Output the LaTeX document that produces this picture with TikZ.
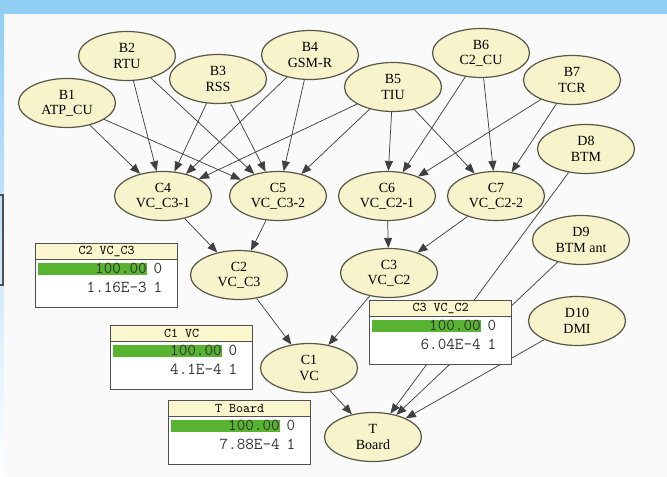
\documentclass[tikz,border=0pt]{standalone}
\usepackage{fontspec}
\setmainfont{Liberation Serif}
\usetikzlibrary{shapes.geometric,arrows.meta}
\definecolor{framebl}{RGB}{147,207,245}
\definecolor{nodefill}{RGB}{247,243,202}
\definecolor{nodeline}{RGB}{88,86,70}
\definecolor{headfill}{RGB}{250,246,205}
\definecolor{barfill}{RGB}{88,180,48}
\definecolor{boxline}{RGB}{80,80,80}
\tikzset{bnode/.style={ellipse, draw=nodeline, fill=nodefill, line width=0.9pt, minimum width=72.75pt, minimum height=36.75pt, inner sep=0pt, align=center, font=\fontsize{10.5}{11.5}\selectfont},
  arc/.style={draw=black!75, line width=0.55pt, -{Triangle[length=7.5pt,width=6pt]}},
  monbox/.style={draw=boxline, fill=white, line width=0.9pt, minimum width=106.5pt, minimum height=48pt, inner sep=0pt, anchor=north west},
  monhead/.style={draw=boxline, fill=headfill, line width=0.9pt, minimum width=106.5pt, minimum height=12pt, inner sep=0pt, anchor=north west, font=\ttfamily\fontsize{10}{10}\selectfont},
  monbar/.style={fill=barfill, minimum width=81.75pt, minimum height=9pt, inner sep=0pt, anchor=north west},
  montext/.style={inner sep=0pt, text=black!80, font=\ttfamily\fontsize{12.5}{13}\selectfont}}

\begin{document}
\begin{tikzpicture}[x=0.75pt, y=-0.75pt]
    \useasboundingbox (0,0) rectangle (667,477);
    \fill[white!98!black] (0,0) rectangle (667,477);
    \fill[framebl] (0,0) rectangle (667,14);
    \shade[top color=framebl, bottom color=white] (0,14) rectangle (4,477);

    \node[bnode] (b1) at (67,103) {B1\\ATP\_CU};
    \node[bnode] (b2) at (127,56) {B2\\RTU};
    \node[bnode] (b3) at (218,79) {B3\\RSS};
    \node[bnode] (b4) at (310,55) {B4\\GSM-R};
    \node[bnode] (b5) at (393,87) {B5\\TIU};
    \node[bnode] (b6) at (481,53) {B6\\C2\_CU};
    \node[bnode] (b7) at (572,80) {B7\\TCR};
    \node[bnode] (c4) at (163,196) {C4\\VC\_C3-1};
    \node[bnode] (c5) at (278,196) {C5\\VC\_C3-2};
    \node[bnode] (c6) at (387,196) {C6\\VC\_C2-1};
    \node[bnode] (c7) at (496,196) {C7\\VC\_C2-2};
    \node[bnode] (c2) at (239,275) {C2\\VC\_C3};
    \node[bnode] (c3) at (389,273) {C3\\VC\_C2};
    \node[bnode] (c1) at (309,368) {C1\\VC};
    \node[bnode] (t) at (373,437) {T\\Board};
    \node[bnode] (d8) at (586,149) {D8\\BTM};
    \node[bnode] (d9) at (581,240) {D9\\BTM ant};
    \node[bnode] (d10) at (577,321) {D10\\DMI};

    \foreach \s/\t in {b1/c4, b1/c5, b2/c4, b2/c5, b3/c4, b3/c5, b4/c4, b4/c5,
        b5/c4, b5/c5, b5/c6, b5/c7, b6/c6, b6/c7, b7/c6, b7/c7,
        c4/c2, c5/c2, c6/c3, c7/c3, c2/c1, c3/c1, c1/t, d8/t, d9/t, d10/t}
      \draw[arc] (\s) -- (\t);

    \foreach \n/\x/\y/\title/\p in {m2/35/243/{C2 VC\_C3}/1.16E-3, m1/110/325/{C1 VC}/4.1E-4,
        mt/168/400/{T Board}/7.88E-4, m3/369/300/{C3 VC\_C2}/6.04E-4}{
      \node[monbox] (\n) at (\x,\y) {};
      \node[monhead] (\n-head) at (\n.north west) {\title};
      \node[monbar] (\n-bar) at (\x+3,\y+19.5) {};
      \node[montext, anchor=east] (\n-v0) at (\x+112,\y+25.5) {100.00};
      \node[montext] (\n-s0) at (\x+123,\y+25.5) {0};
      \node[montext, anchor=east] (\n-v1) at (\x+112,\y+44) {\p};
      \node[montext] (\n-s1) at (\x+123,\y+44) {1};
    }

    \draw[boxline, line width=0.9pt] (0,195) -- (3,195) -- (3,285) -- (0,285);
\end{tikzpicture}
\end{document}
